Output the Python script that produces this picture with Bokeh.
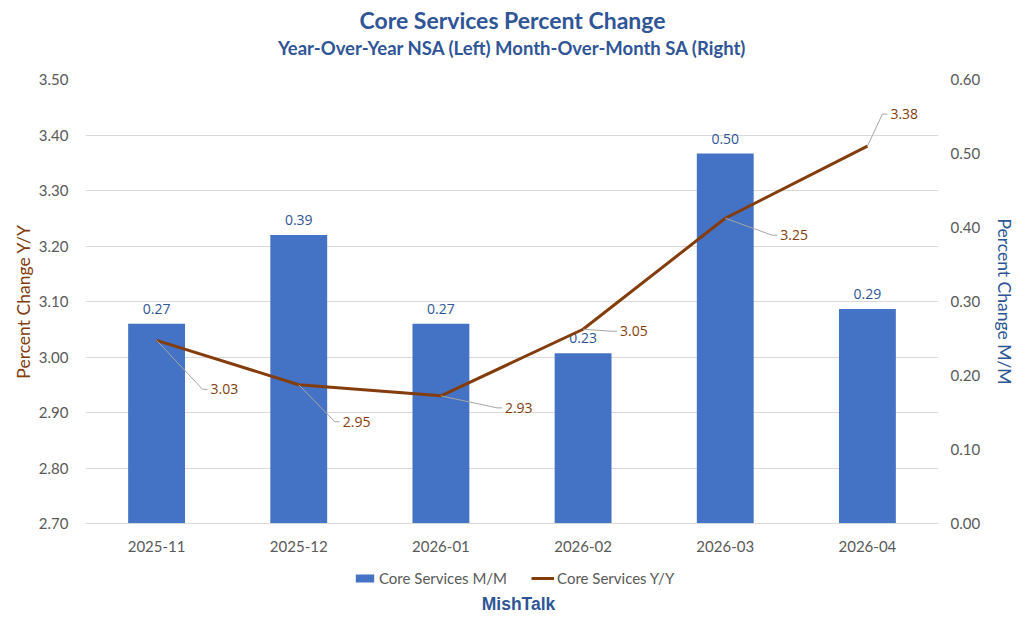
from bokeh.plotting import figure
from bokeh.layouts import column
from bokeh.models import (Range1d, LinearAxis, FixedTicker, NumeralTickFormatter,
                          ColumnDataSource, Label, Legend, LegendItem)
from bokeh.embed import file_html
from bokeh.resources import INLINE
from bokeh.core.properties import value

# ---------------- data ----------------
months = ["2025-11", "2025-12", "2026-01", "2026-02", "2026-03", "2026-04"]
mm_values = [0.27, 0.39, 0.27, 0.23, 0.50, 0.29]      # Core Services M/M (right axis)
yy_values = [3.03, 2.95, 2.93, 3.05, 3.25, 3.38]      # Core Services Y/Y (left axis)
left_ticks = [2.70, 2.80, 2.90, 3.00, 3.10, 3.20, 3.30, 3.40, 3.50]
right_ticks = [0.00, 0.10, 0.20, 0.30, 0.40, 0.50, 0.60]
title_text = "Core Services Percent Change"
subtitle_text = "Year-Over-Year NSA (Left) Month-Over-Month SA (Right)"
series_names = ["Core Services M/M", "Core Services Y/Y"]
credit_text = "MishTalk"

# ---------------- style ----------------
W = 1024
HEAD_H, FOOT_H = 67, 55
BL, BR, BT, BB = 85, 86, 12, 42
FH = 444
CH = BT + FH + BB
FW = W - BL - BR
N = len(months)
Y0, Y1 = left_ticks[0], left_ticks[-1]
PX_X = FW / N
PX_Y = FH / (Y1 - Y0)

BLUE = "#4472C4"
DARK_BLUE = "#2F5597"
BROWN = "#843C0C"
GREY_TXT = "#595959"
GRID = "#D9D9D9"
FONT = "Lato"
LBL_FONT = "Open Sans"


def blank(h):
    f = figure(width=W, height=h, output_backend="svg", toolbar_location=None, title=None,
               x_range=Range1d(BL, W - BR), y_range=Range1d(0, h),
               x_axis_type=None, y_axis_type=None,
               min_border_left=BL, min_border_right=BR, min_border_top=0, min_border_bottom=0)
    f.outline_line_color = None
    f.xgrid.visible = False
    f.ygrid.visible = False
    f.background_fill_color = "white"
    f.border_fill_color = "white"
    return f


# ---------------- header ----------------
head = blank(HEAD_H)
head.add_layout(Label(x=W / 2, y=HEAD_H - 19, text=title_text,
                      text_align="center", text_baseline="middle", text_color=DARK_BLUE,
                      text_font=FONT, text_font_style="bold", text_font_size="23px"))
head.add_layout(Label(x=W / 2, y=HEAD_H - 47, text=subtitle_text,
                      text_align="center", text_baseline="middle", text_color=DARK_BLUE,
                      text_font=FONT, text_font_style="bold", text_font_size="18.5px"))

# ---------------- chart ----------------
xs = [i + 0.5 for i in range(N)]

p = figure(width=W, height=CH, output_backend="svg", toolbar_location=None, title=None,
           x_range=Range1d(0, N), y_range=Range1d(Y0, Y1),
           min_border_left=BL, min_border_right=BR, min_border_top=BT, min_border_bottom=BB)
p.extra_y_ranges = {"mm": Range1d(right_ticks[0], right_ticks[-1])}
p.outline_line_color = None
p.background_fill_color = "white"
p.border_fill_color = "white"

p.xaxis.ticker = FixedTicker(ticks=xs)
p.xaxis.major_label_overrides = {x: m for x, m in zip(xs, months)}
p.xaxis.major_tick_line_color = None
p.xaxis.major_tick_out = 0
p.xaxis.major_tick_in = 0
p.xaxis.minor_tick_line_color = None
p.xaxis.axis_line_color = GRID
p.xaxis.major_label_text_color = GREY_TXT
p.xaxis.major_label_text_font = FONT
p.xaxis.major_label_text_font_size = "15px"
p.xaxis.major_label_standoff = 17

p.yaxis.ticker = FixedTicker(ticks=left_ticks)
p.yaxis.formatter = NumeralTickFormatter(format="0.00")
p.yaxis.major_tick_line_color = None
p.yaxis.major_tick_out = 0
p.yaxis.major_tick_in = 0
p.yaxis.minor_tick_line_color = None
p.yaxis.axis_line_color = None
p.yaxis.major_label_text_color = GREY_TXT
p.yaxis.major_label_text_font = FONT
p.yaxis.major_label_text_font_size = "15px"
p.yaxis.major_label_standoff = 17
p.yaxis.axis_label = "Percent Change Y/Y"
p.yaxis.axis_label_text_color = BROWN
p.yaxis.axis_label_text_font = FONT
p.yaxis.axis_label_text_font_style = "normal"
p.yaxis.axis_label_text_font_size = "17.5px"
p.yaxis.axis_label_standoff = 2

raxis = LinearAxis(y_range_name="mm", ticker=FixedTicker(ticks=right_ticks),
                   formatter=NumeralTickFormatter(format="0.00"))
raxis.major_tick_line_color = None
raxis.major_tick_out = 0
raxis.major_tick_in = 0
raxis.minor_tick_line_color = None
raxis.axis_line_color = None
raxis.major_label_text_color = GREY_TXT
raxis.major_label_text_font = FONT
raxis.major_label_text_font_size = "15px"
raxis.major_label_standoff = 12
raxis.axis_label = "Percent Change M/M"
raxis.axis_label_text_color = DARK_BLUE
raxis.axis_label_text_font = FONT
raxis.axis_label_text_font_style = "normal"
raxis.axis_label_text_font_size = "17.5px"
raxis.axis_label_standoff = 11
p.add_layout(raxis, "right")

p.xgrid.grid_line_color = None
p.ygrid.grid_line_color = GRID
p.ygrid.grid_line_width = 1

# bars (right axis)
bar_src = ColumnDataSource(dict(x=xs, top=mm_values, lbl=[f"{v:.2f}" for v in mm_values]))
p.vbar(x="x", top="top", bottom=0, width=0.4, source=bar_src, y_range_name="mm",
       fill_color=BLUE, line_color=None)
p.text(x="x", y="top", text="lbl", source=bar_src, y_range_name="mm", y_offset=-15,
       text_align="center", text_baseline="middle", text_color=DARK_BLUE,
       text_font=value(LBL_FONT), text_font_size="14px")

# line (left axis)
line_src = ColumnDataSource(dict(x=xs, y=yy_values))
p.line(x="x", y="y", source=line_src, line_color=BROWN, line_width=3)

# leader lines + labels for the line series (bend offsets in pixels: dx right, dy down)
bends = [(46, 49), (36, 37), (56, 12), (29, 2), (47, 17), (15, -32)]
lx, ly, tx, ty = [], [], [], []
for x, v, (dx, dy) in zip(xs, yy_values, bends):
    bx = x + dx / PX_X
    by = v - dy / PX_Y
    ex = bx + 5 / PX_X
    lx.append([x, bx, ex])
    ly.append([v, by, by])
    tx.append(ex + 3 / PX_X)
    ty.append(by)
p.multi_line(xs=lx, ys=ly, line_color="#A6A6A6", line_width=1)
p.text(x=tx, y=ty, text=[f"{v:.2f}" for v in yy_values], text_align="left",
       text_baseline="middle", text_color=BROWN, text_font=value(LBL_FONT),
       text_font_size="14px")

# ---------------- footer: legend + credit ----------------
foot = blank(FOOT_H)
# zero-size proxy renderers that only supply the legend swatches
r_bar = foot.vbar(x=[BL], top=[0], bottom=[0], width=0, fill_color=BLUE, line_color=None)
r_line = foot.line(x=[BL, BL], y=[0, 0], line_color=BROWN, line_width=3)
legend = Legend(items=[LegendItem(label=series_names[0], renderers=[r_bar]),
                       LegendItem(label=series_names[1], renderers=[r_line])],
                orientation="horizontal", location=(268, FOOT_H - 13 - 9),
                border_line_color=None, background_fill_alpha=0,
                label_text_color=GREY_TXT, label_text_font=FONT,
                label_text_font_size="15px", glyph_width=23, glyph_height=10,
                label_standoff=3, spacing=24, padding=0, margin=0)
foot.add_layout(legend, "center")
foot.add_layout(Label(x=W / 2 + 6, y=FOOT_H - 38, text=credit_text,
                      text_align="center", text_baseline="middle", text_color=DARK_BLUE,
                      text_font="Liberation Sans", text_font_style="bold",
                      text_font_size="17.5px"))

layout = column(head, p, foot, spacing=0)
open("out.html", "w").write(file_html(layout, INLINE))
